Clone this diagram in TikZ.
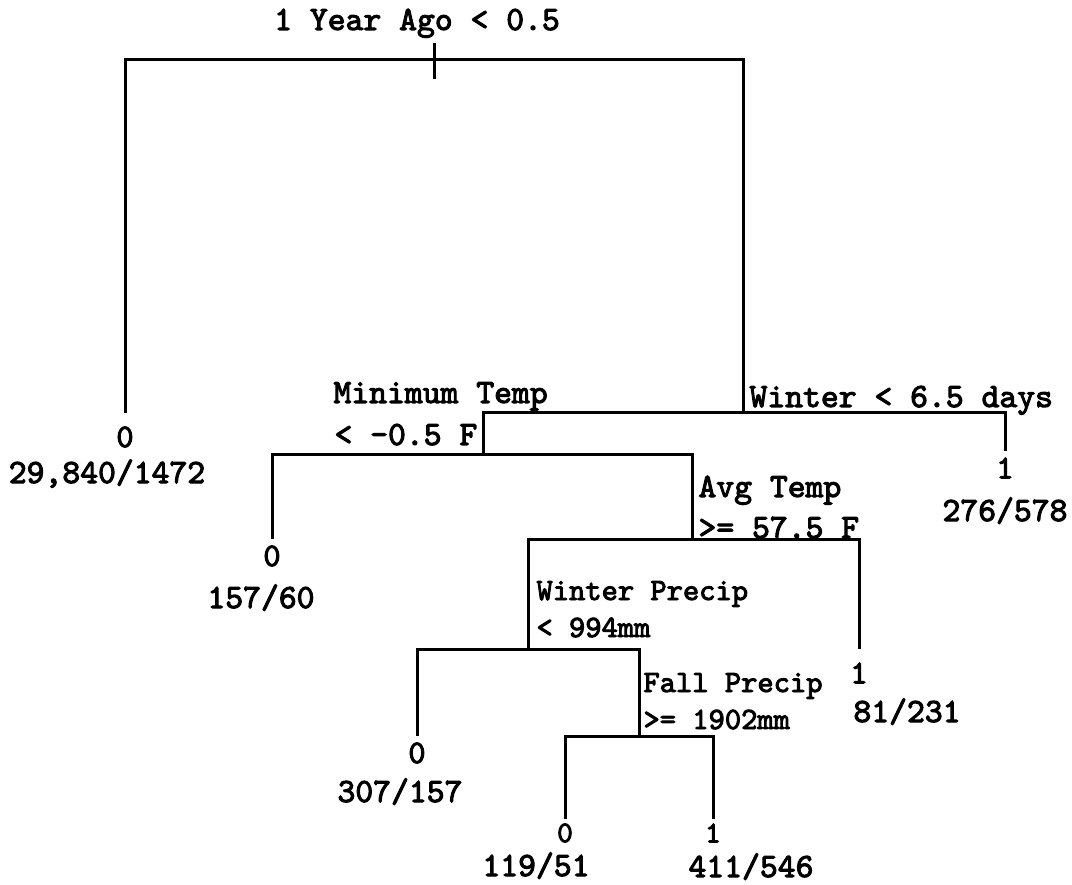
\documentclass[tikz,border=0pt]{standalone}
\usepackage{fontspec}
\newfontfamily\treefont{lmmono10-regular.otf}[FakeBold=3]
\begin{document}
\begin{tikzpicture}[x=1pt,y=-1pt,line width=3pt,line join=miter,
  lbl/.style={font=\treefont\fontsize{34}{34}\selectfont,inner sep=0pt,anchor=base west},
  plbl/.style={font=\treefont\fontsize{31}{31}\selectfont,inner sep=0pt,anchor=base west},
  leafval/.style={font=\treefont\fontsize{33}{33}\selectfont,inner xsep=0pt,inner ysep=5pt,anchor=center},
  smallleaf/.style={leafval,font=\treefont\fontsize{30}{30}\selectfont,inner ysep=0pt},
  cnt/.style={font=\treefont\fontsize{34}{34}\selectfont,inner sep=0pt,anchor=base}]
\useasboundingbox (0,0) rectangle (1072,885);
% split junctions
\coordinate (s1) at (434,60);
\coordinate (s2) at (743,413);
\coordinate (s3) at (483,455);
\coordinate (s4) at (692,539);
\coordinate (s5) at (528,649);
\coordinate (s6) at (639,736);
\coordinate (t1) at (434,43);
\coordinate (t2) at (434,79);
% split labels
\node[lbl,anchor=base] (r) at (417,30) {1 Year Ago < 0.5};
\node[lbl] (w1) at (748,407) {Winter < 6.5 days};
\node[lbl] (m1) at (332,403) {Minimum Temp};
\node[lbl] (m2) at (333,445) {< -0.5 F};
\node[lbl] (a1) at (697,497) {Avg Temp};
\node[lbl] (a2) at (697,538) {>= 57.5 F};
\node[plbl] (p1) at (535,600) {Winter Precip};
\node[plbl] (p2) at (535,637) {< 994mm};
\node[plbl] (f1) at (642,692) {Fall Precip};
\node[plbl] (f2) at (642,729) {>= 1902mm};
% leaves
\node[leafval,inner ysep=12pt] (v1) at (125,437) {0};
\node[cnt] (c1) at (107,483) {29,840/1472};
\node[leafval] (v2) at (1005,468) {1};
\node[cnt] (c2) at (1005,521) {276/578};
\node[leafval] (v3) at (272,556) {0};
\node[cnt] (c3) at (261,608) {157/60};
\node[leafval,inner ysep=12pt] (v4) at (859,673) {1};
\node[cnt] (c4) at (907,722) {81/231};
\node[leafval] (v5) at (417,753) {0};
\node[cnt] (c5) at (400,802) {307/157};
\node[smallleaf] (v6) at (565,833) {0};
\node[cnt] (c6) at (536,876) {119/51};
\node[smallleaf] (v7) at (713,833) {1};
\node[cnt] (c7) at (751,877) {411/546};
% connectors
\draw (t1) -- (t2);
\draw (v1.north) |- (s1) -| (s2);
\draw (s3) |- (s2) -| (v2.north);
\draw (v3.north) |- (s3) -| (s4);
\draw (s5) |- (s4) -| (v4.north);
\draw (v5.north) |- (s5) -| (s6);
\draw[shorten <=3pt,shorten >=3pt] (v6.north) |- (s6) -| (v7.north);
\end{tikzpicture}
\end{document}
